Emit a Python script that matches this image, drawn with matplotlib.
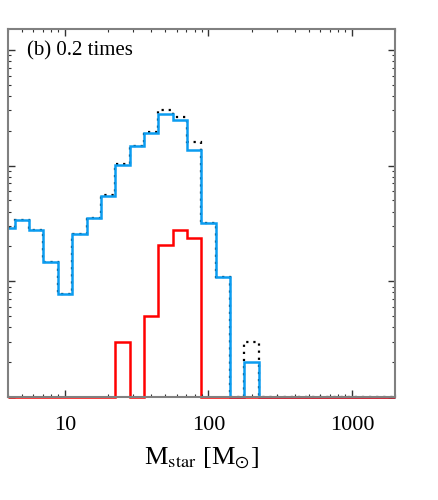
import matplotlib
matplotlib.use("Agg")
import matplotlib.pyplot as plt
import numpy as np

plt.rcParams['font.family'] = 'serif'
plt.rcParams['font.serif'] = ['Liberation Serif', 'DejaVu Serif']
plt.rcParams['mathtext.fontset'] = 'stix'

# bin centres in log10(M/Msun), 0.1 dex wide
log_centres = np.round(np.arange(0.6, 3.35, 0.1), 2)

# counts per bin
blue_counts = [29, 34, 27.5, 14.8, 7.8, 25.5, 35.4, 55, 101, 147, 191, 279, 249, 137,
               31.8, 10.8, 0, 2, 0, 0, 0, 0, 0, 0, 0, 0, 0, 0]
black_counts = [29, 34, 27.5, 14.8, 7.8, 25.5, 35.4, 56, 103, 147, 194, 302, 264, 160,
                31.8, 10.8, 0, 3, 0, 0, 0, 0, 0, 0, 0, 0, 0, 0]
red_counts = [0, 0, 0, 0, 0, 0, 0, 0, 3, 0, 5, 20.7, 27.5, 23.5,
              0, 0, 0, 0, 0, 0, 0, 0, 0, 0, 0, 0, 0, 0]

xmin, xmax = 4, 2000
ymin = 1.0


def step_hist(ax, counts, **kw):
    edges = 10 ** (np.append(log_centres - 0.05, log_centres[-1] + 0.05))
    edges = np.clip(edges, xmin, xmax)
    c = np.maximum(np.asarray(counts, float), ymin)
    ax.stairs(c, edges, baseline=None, clip_on=False, **kw)


fig = plt.figure(figsize=(4.39, 5.0), dpi=100)
ax = fig.add_axes([0.018, 0.206, 0.882, 0.736])

step_hist(ax, black_counts, color='black', lw=1.6, linestyle=(0, (1, 2.2)))
step_hist(ax, blue_counts, color='#0b9cf0', lw=1.8)
step_hist(ax, red_counts, color='#ff0000', lw=1.8)

ax.set_xscale('log')
ax.set_yscale('log')
ax.set_xlim(xmin, xmax)
ax.set_ylim(ymin, 10 ** 3.18)

ax.set_xticks([10, 100, 1000])
ax.set_xticklabels(['10', '100', '1000'], fontsize=16)
ax.yaxis.set_ticklabels([], minor=False)
ax.yaxis.set_ticklabels([], minor=True)
ax.tick_params(which='both', direction='in', top=True, right=True, color='#333333')
ax.tick_params(which='major', length=5, width=1)
ax.tick_params(which='minor', length=2.5, width=0.8)
ax.tick_params(axis='x', pad=14)
for s in ax.spines.values():
    s.set_color('#808080')
    s.set_linewidth(1.5)

ax.set_xlabel(r'M$_{\rm star}$ [M$_{\odot}$]', fontsize=19, labelpad=7)
ax.text(0.05, 0.94, '(b) 0.2 times', transform=ax.transAxes, fontsize=15,
        ha='left', va='center')

fig.savefig('out.png', dpi=100)
